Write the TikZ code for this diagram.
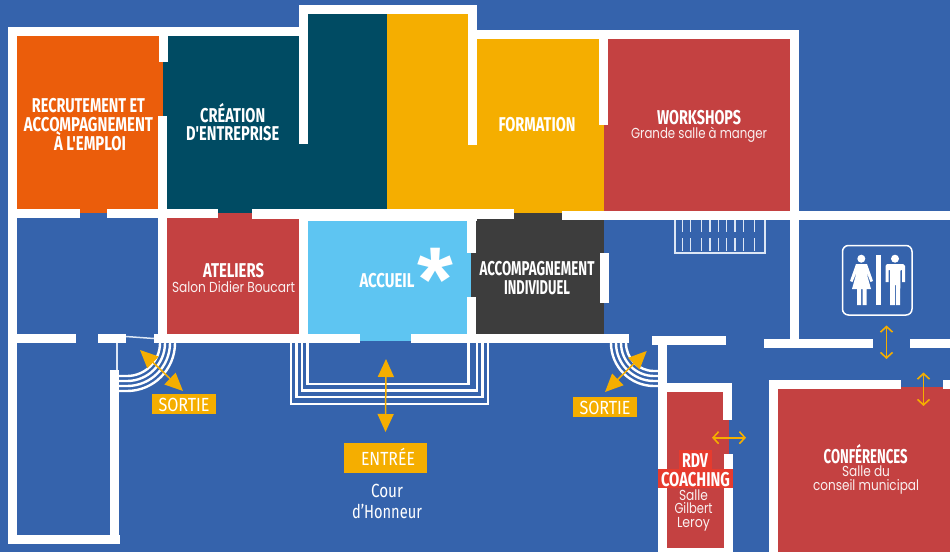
\documentclass[tikz,border=0pt]{standalone}
\usepackage{fontspec}
\usepackage{graphicx}
\usetikzlibrary{arrows.meta}
\newfontfamily\hdf{Fira Sans}[UprightFont=* Bold]
\newfontfamily\sbf{Poppins}
\newfontfamily\ltf{Fira Sans}
\newfontfamily\astf{Liberation Sans Bold}
\definecolor{bgc}{HTML}{3563AC}
\definecolor{orangec}{HTML}{EB5D0B}
\definecolor{tealc}{HTML}{004B63}
\definecolor{yellowc}{HTML}{F5AE00}
\definecolor{redc}{HTML}{C44141}
\definecolor{skyc}{HTML}{5EC5F2}
\definecolor{darkc}{HTML}{3D3D3D}
\definecolor{hlc}{HTML}{E63B2E}
\definecolor{thinc}{HTML}{DCE6F5}
\newcommand\rc[5]{\fill[#1] (#2,#3) rectangle (#4,#5);}
\newcommand\wl[4]{\fill[white] (#1,#2) rectangle (#3,#4);}
\newcommand\hw[2]{\resizebox{#1pt}{\height}{#2}}
\tikzset{
  x=1pt,y=-1pt,
  lab/.style={inner sep=0pt,outer sep=0pt,anchor=base,text=white},
  hd/.style={lab,yshift=-0.8pt,font=\hdf\fontsize{20}{20}\selectfont},
  sb/.style={lab,yshift=-0.5pt,font=\sbf\fontsize{14.5}{14.5}\selectfont,text=white!92!redc},
  lt/.style={lab,yshift=-0.5pt,font=\ltf\fontsize{19}{19}\selectfont},
  stair/.style={draw=white,line width=2.4pt},
  thin line/.style={draw=thinc,line width=1.5pt},
  big arrow/.style={draw=yellowc,line width=1.5pt,{Triangle[length=18pt,width=16pt]}-{Triangle[length=18pt,width=16pt]}},
  open arrow/.style={draw=yellowc,line width=1.6pt,{Straight Barb[length=5.5pt,width=12pt]}-{Straight Barb[length=5.5pt,width=12pt]}},
}
\begin{document}
\begin{tikzpicture}
\useasboundingbox (0,0) rectangle (950,552);
\fill[bgc] (0,0) rectangle (950,552);
% rooms
\rc{orangec}{17}{36}{163}{213}
\rc{tealc}{163}{36}{387}{213}
\rc{tealc}{308}{14}{387}{213}
\rc{yellowc}{387}{14}{468}{213}
\rc{yellowc}{468}{39}{604}{213}
\rc{redc}{604}{39}{790}{211}
\rc{redc}{167}{213}{299}{334}
\rc{skyc}{308}{221}{471}{341}
\rc{darkc}{471}{213}{604}{334}
\rc{redc}{667}{392}{724}{548}
\rc{redc}{724}{420}{729}{454}
\rc{redc}{778}{389}{950}{552}
\rc{redc}{901}{387}{943}{389}
% stairs
\foreach \l/\r/\b in {291/488/404,296.5/482.5/397,302/477/390.5,307.5/468.5/384}
  \draw[stair] (\l,343) -- (\l,\b) -- (\r,\b) -- (\r,343);
\foreach \r in {33,38,43,48}
  \draw[stair] (119,343+\r) -- (127,343+\r) arc[start angle=90,end angle=0,radius=\r] ;
\foreach \r in {28,33,38,43}
  \draw[stair] (658,343+\r) -- (654,343+\r) arc[start angle=90,end angle=180,radius=\r];
\draw[thin line] (117,343) -- (117,371);
\draw[thin line] (126,336.5) -- (154,338.5);
% workshop steps
\draw[thin line] (675,220) -- (675,253) -- (765,253) -- (765,220);
\foreach \x in {682.3,690.7,701.7,710,718.3,726.7,735,743.3,754.3}{
  \draw[thin line] (\x,220) -- (\x,232);
  \draw[thin line] (\x,238) -- (\x,251);
}
% walls
\wl{8}{27}{299}{36}
\wl{8}{27}{17}{544}
\wl{8}{535}{120}{544}
\wl{110}{370}{119}{544}
\wl{159}{36}{168}{62}
\wl{158}{116}{167}{343}
\wl{17}{209}{80}{218}
\wl{107}{209}{218}{218}
\wl{252}{209}{514}{219}
\wl{299}{219}{477}{221}
\wl{299}{5}{477}{14}
\wl{299}{5}{308}{144}
\wl{468}{5}{477}{145}
\wl{477}{30}{799}{39}
\wl{599}{39}{608}{125}
\wl{790}{39}{799}{348}
\wl{562}{211}{950}{220}
\wl{299}{219}{308}{343}
\wl{467}{219}{476}{253}
\wl{467}{297}{476}{343}
\wl{600}{253}{609}{303}
\wl{17}{334}{76}{343}
\wl{98}{334}{126}{343}
\wl{154}{334}{360}{343}
\wl{411}{334}{629}{343}
\wl{652}{336}{726}{345}
\wl{658}{345}{667}{552}
\wl{667}{383}{732}{392}
\wl{723}{392}{732}{420}
\wl{724}{454}{733}{552}
\wl{658}{548}{733}{552}
\wl{764}{339}{873}{348}
\wl{910}{339}{950}{348}
\wl{769}{380}{901}{389}
\wl{769}{380}{778}{552}
\wl{943}{380}{950}{389}
% orange label boxes
\rc{yellowc}{152}{394}{216}{414}
\rc{yellowc}{573}{397}{637}{417}
\rc{yellowc}{344}{443}{427}{473}
\rc{hlc}{679}{450}{712}{468.5}
\rc{hlc}{658}{468.5}{733}{487.5}
% arrows
\coordinate (ea) at (386,359); \coordinate (eb) at (385.5,432);
\draw[big arrow] (ea) -- (eb);
\coordinate (sa) at (140,350); \coordinate (sb) at (183,391);
\draw[big arrow] (sa) -- (sb);
\coordinate (ra) at (646.7,351); \coordinate (rb) at (605,392);
\draw[big arrow] (ra) -- (rb);
\coordinate (oa) at (712,437.7); \coordinate (ob) at (746,437.7);
\draw[open arrow] (oa) -- (ob);
\coordinate (wa) at (886.5,325.5); \coordinate (wb) at (886.5,359);
\draw[open arrow] (wa) -- (wb);
\coordinate (ca) at (923.5,372.5); \coordinate (cb) at (923.5,406);
\draw[open arrow] (ca) -- (cb);
% WC icon
\draw[white,line width=1.5pt,rounded corners=6pt] (842.5,245.5) rectangle (912,315);
\fill[white] (876,255) rectangle (881,305);
\fill[white] (861.3,258.7) circle[radius=4];
\fill[white] (895,258.7) circle[radius=4];
\fill[white] (856,264)--(867,264)--(873,281)--(870.5,282)--(866,271)--(871,289)--(866.5,289)--(866.5,305)--(862.5,305)--(862.5,289)--(861,289)--(861,305)--(857,305)--(857,289)--(852,289)--(857,271)--(852.5,282)--(850,281)--cycle;
\fill[white] (887,264)--(903,264)--(905,266)--(905,282)--(902,282)--(902,270)--(900.5,270)--(900,305)--(896,305)--(896,285)--(895,285)--(895,305)--(890,305)--(890,270)--(888.5,270)--(888.5,282)--(885.5,282)--(885.5,266)--cycle;
% labels
\node[hd] (l1) at (88.5,111.7) {\hw{113}{RECRUTEMENT ET}};
\node[hd] (l2) at (88.5,131) {\hw{129}{ACCOMPAGNEMENT}};
\node[hd] (l3) at (90,150) {\hw{72}{À L'EMPLOI}};
\node[hd] (l4) at (232.7,121.7) {\hw{65}{CRÉATION}};
\node[hd] (l5) at (232.7,140) {\hw{93}{D'ENTREPRISE}};
\node[hd] (l6) at (537,131) {\hw{77}{FORMATION}};
\node[hd] (l7) at (699,124) {\hw{84}{WORKSHOPS}};
\node[sb] (l8) at (699,138) {\hw{136}{Grande salle à manger}};
\node[hd] (l9) at (233.5,276.7) {\hw{61}{ATELIERS}};
\node[sb] (l10) at (233.5,291.5) {\hw{123}{Salon Didier Boucart}};
\node[hd] (l11) at (387,286.7) {\hw{55}{ACCUEIL}};
\node[lab,font=\astf\fontsize{92}{92}\selectfont] (ast) at (435,311) {*};
\node[hd] (l12) at (537,275) {\hw{115}{ACCOMPAGNEMENT}};
\node[hd] (l13) at (537,294) {\hw{66}{INDIVIDUEL}};
\node[lt] (l14) at (388,465) {\hw{54}{ENTRÉE}};
\node[lt] (l15) at (387,497.3) {\hw{32}{Cour}};
\node[lt] (l16) at (387,518.3) {\hw{70}{d’Honneur}};
\node[lt] (l17) at (184,411) {\hw{51}{SORTIE}};
\node[lt] (l18) at (605,414.3) {\hw{51}{SORTIE}};
\node[hd] (l19) at (695,466.7) {\hw{26}{RDV}};
\node[hd] (l20) at (695.5,485.7) {\hw{69}{COACHING}};
\node[sb] (l21) at (693.5,500) {\hw{29}{Salle}};
\node[sb] (l22) at (693.5,513.3) {\hw{38}{Gilbert}};
\node[sb] (l23) at (693.5,526.7) {\hw{33}{Leroy}};
\node[hd] (l24) at (865.7,462.7) {\hw{84}{CONFÉRENCES}};
\node[sb] (l25) at (866,476.3) {\hw{48}{Salle du}};
\node[sb] (l26) at (866,490) {\hw{106}{conseil municipal}};
\end{tikzpicture}
\end{document}
